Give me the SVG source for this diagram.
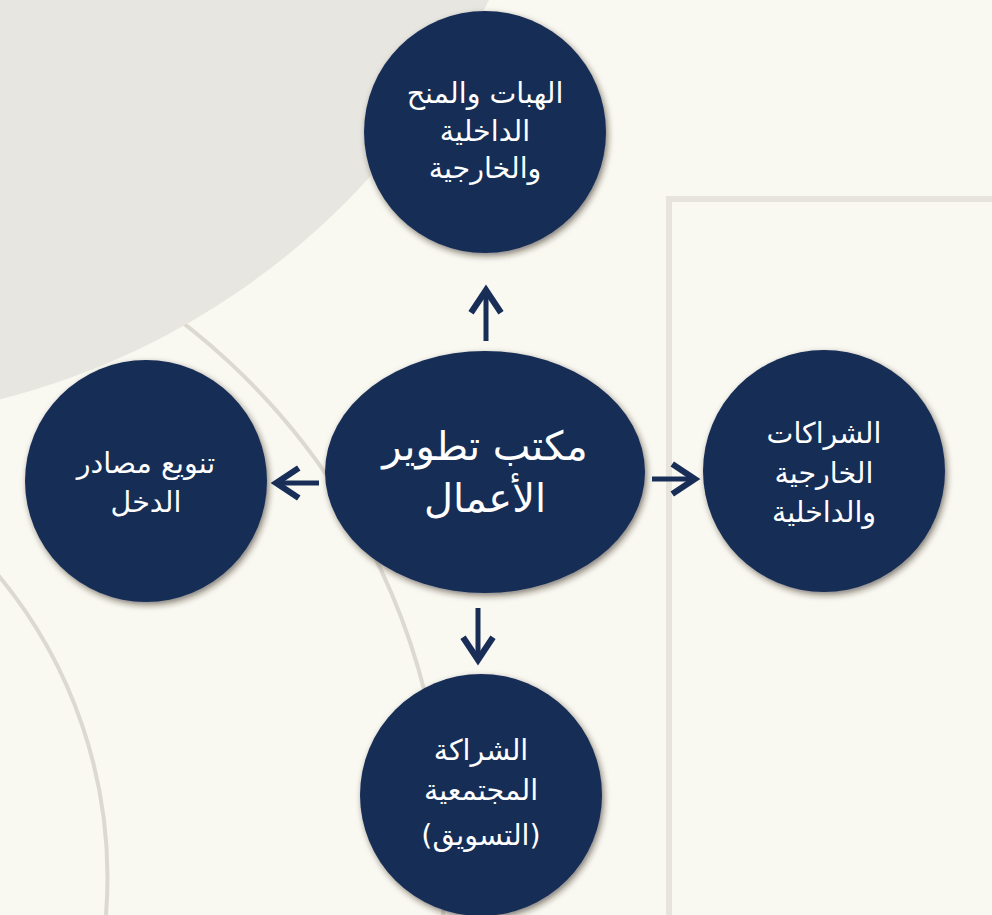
<svg xmlns="http://www.w3.org/2000/svg" width="992" height="915" viewBox="0 0 992 915">
  <defs>
    <filter id="shadow" x="-20%" y="-20%" width="140%" height="140%">
      <feDropShadow dx="2" dy="3" stdDeviation="3" flood-color="#2b2414" flood-opacity="0.55"/>
    </filter>
    <marker id="head" markerUnits="userSpaceOnUse" markerWidth="40" markerHeight="40" viewBox="-24 -16 30 32" refX="0" refY="0" orient="auto">
      <path d="M -19 -12 L -1 0 L -19 12" fill="none" stroke="#192e57" stroke-width="5"/>
    </marker>
    <style>
      .node { fill: #192e57; filter: url(#shadow); }
      .lbl { fill: #ffffff; font-family: "DejaVu Sans", "Noto Sans", sans-serif; font-size: 28.5px; text-anchor: middle; direction: rtl; }
      .big { font-size: 40px; }
      .arc { fill: none; stroke: #dcd9d1; stroke-width: 4; }
      .conn { fill: none; stroke: #192e57; stroke-width: 5; marker-end: url(#head); }
    </style>
  </defs>

  <rect x="0" y="0" width="992" height="915" fill="#f9f8f1"/>

  <g id="background">
    <path class="arc" d="M 66 250 A 677 677 0 0 1 443 915"/>
    <path class="arc" d="M -15 560 A 474 474 0 0 1 106 915"/>
    <circle cx="-183" cy="-324" r="746" fill="#e8e6e0"/>
    <rect x="669" y="199" width="330" height="730" fill="none" stroke="#e6e4dd" stroke-width="6"/>
  </g>

  <g id="connectors">
    <path class="conn" d="M 486 341 L 486 289"/>
    <path class="conn" d="M 319 483 L 275 483"/>
    <path class="conn" d="M 652 479 L 696 479"/>
    <path class="conn" d="M 478 608 L 478 661"/>
  </g>

  <g id="node-center">
    <ellipse class="node" cx="485" cy="472" rx="160" ry="121"/>
    <text class="lbl big" x="485" y="460">مكتب تطوير</text>
    <text class="lbl big" x="485" y="512">الأعمال</text>
  </g>

  <g id="node-top">
    <circle class="node" cx="485" cy="132" r="121"/>
    <text class="lbl" x="485" y="103">الهبات والمنح</text>
    <text class="lbl" x="485" y="141">الداخلية</text>
    <text class="lbl" x="485" y="178">والخارجية</text>
  </g>

  <g id="node-left">
    <circle class="node" cx="146" cy="481" r="121"/>
    <text class="lbl" x="146" y="473">تنويع مصادر</text>
    <text class="lbl" x="146" y="512">الدخل</text>
  </g>

  <g id="node-right">
    <circle class="node" cx="824" cy="471" r="121"/>
    <text class="lbl" x="824" y="443">الشراكات</text>
    <text class="lbl" x="824" y="483">الخارجية</text>
    <text class="lbl" x="824" y="522">والداخلية</text>
  </g>

  <g id="node-bottom">
    <circle class="node" cx="481" cy="795" r="121"/>
    <text class="lbl" x="481" y="760">الشراكة</text>
    <text class="lbl" x="481" y="800">المجتمعية</text>
    <text class="lbl" x="481" y="845">(التسويق)</text>
  </g>
</svg>
